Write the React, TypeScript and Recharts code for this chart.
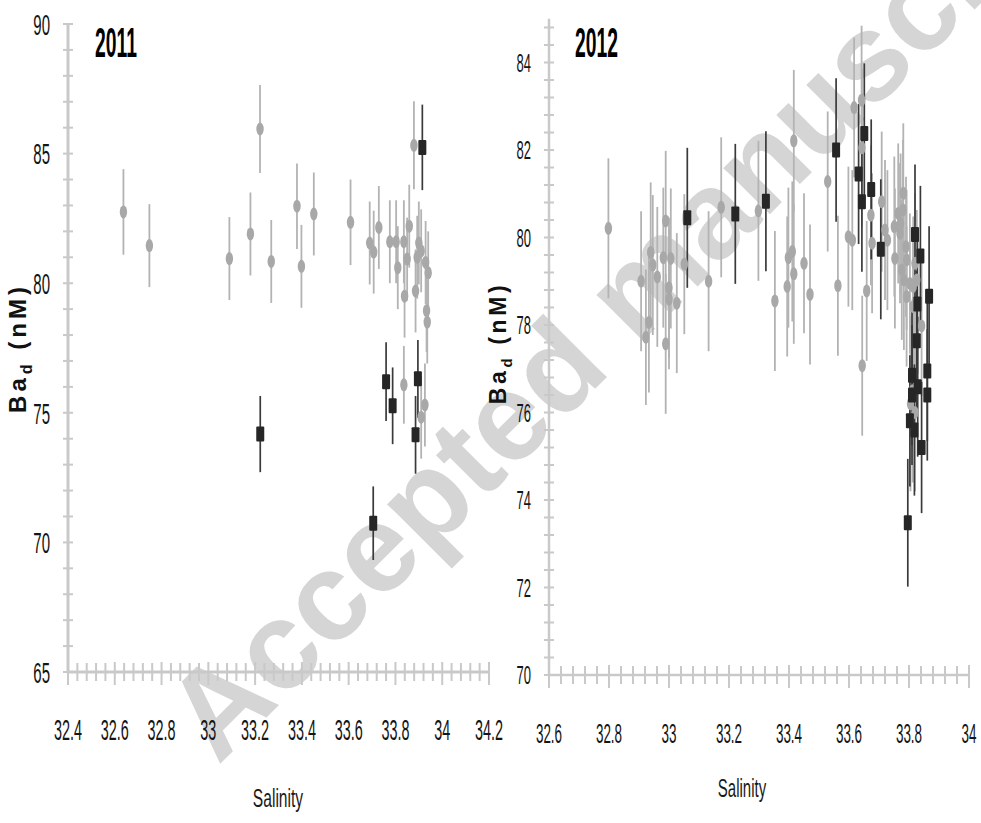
import React from 'react';
import { ScatterChart, Scatter, XAxis, YAxis, ErrorBar } from 'recharts';

// 2011 - gray circles
const sal11Gray = [32.637, 32.748, 33.09, 33.18, 33.221, 33.269, 33.379, 33.398, 33.451, 33.608, 33.69, 33.707, 33.729, 33.776, 33.803, 33.81, 33.836, 33.839, 33.85, 33.859, 33.879, 33.886, 33.893, 33.9, 33.91, 33.929, 33.94, 33.933, 33.936, 33.836, 33.91, 33.926];
const ba11Gray = [82.75, 81.45, 80.95, 81.9, 85.95, 80.84, 82.97, 80.65, 82.67, 82.35, 81.55, 81.2, 82.15, 81.6, 81.6, 80.6, 81.6, 79.5, 80.93, 82.2, 85.32, 79.7, 81.0, 81.55, 81.25, 80.8, 80.4, 78.94, 78.5, 76.08, 74.83, 75.3];
const err11Gray = [1.65, 1.6, 1.6, 1.6, 1.7, 1.6, 1.65, 1.6, 1.6, 1.65, 1.6, 1.6, 1.6, 1.6, 1.6, 1.6, 1.6, 1.6, 1.6, 1.6, 1.7, 1.6, 1.6, 1.6, 1.6, 1.6, 1.6, 1.6, 1.6, 1.5, 1.6, 1.6];

// 2011 - black squares
const sal11Black = [33.222, 33.705, 33.76, 33.788, 33.886, 33.896, 33.915];
const ba11Black = [74.18, 70.74, 76.2, 75.27, 74.15, 76.31, 85.24];
const err11Black = [1.47, 1.42, 1.52, 1.48, 1.5, 1.5, 1.65];

// 2012 - gray circles
const sal12Gray = [32.798, 32.907, 32.923, 32.933, 32.939, 32.946, 32.961, 32.981, 32.989, 32.989, 33.0, 33.0, 33.006, 33.026, 33.051, 33.132, 33.174, 33.298, 33.353, 33.394, 33.398, 33.411, 33.416, 33.416, 33.45, 33.47, 33.529, 33.563, 33.598, 33.611, 33.617, 33.642, 33.643, 33.644, 33.659, 33.673, 33.677, 33.709, 33.72, 33.728, 33.751, 33.753, 33.764, 33.77, 33.776, 33.781, 33.783, 33.792, 33.803, 33.826, 33.842, 33.78, 33.772, 33.79, 33.82, 33.814, 33.814, 33.792, 33.805, 33.812, 33.82];
const ba12Gray = [80.21, 79.0, 77.72, 78.06, 79.66, 79.37, 79.1, 79.54, 80.38, 77.57, 78.85, 78.59, 79.52, 78.5, 79.39, 79.0, 80.69, 80.61, 78.55, 78.88, 79.54, 79.68, 79.17, 82.21, 79.41, 78.7, 81.28, 78.9, 80.02, 79.94, 82.97, 83.14, 82.05, 77.07, 78.78, 80.51, 79.87, 80.82, 80.17, 79.94, 80.25, 79.52, 80.55, 80.1, 79.26, 81.01, 79.03, 79.49, 78.95, 79.03, 77.98, 80.63, 80.32, 79.79, 79.41, 78.88, 78.42, 78.65, 76.2, 76.5, 76.0];
const err12Gray = [1.6, 1.6, 1.55, 1.6, 1.6, 1.6, 1.6, 1.6, 1.6, 1.6, 1.6, 1.6, 1.6, 1.6, 1.6, 1.6, 1.6, 1.6, 1.6, 1.6, 1.6, 1.6, 1.6, 1.62, 1.6, 1.6, 1.6, 1.6, 1.6, 1.6, 1.6, 1.7, 1.8, 1.6, 1.6, 1.6, 1.6, 1.6, 1.6, 1.6, 1.6, 1.6, 1.6, 1.6, 1.6, 1.6, 1.6, 1.6, 1.6, 1.6, 1.6, 1.6, 1.6, 1.6, 1.6, 1.6, 1.6, 1.6, 2.0, 2.1, 1.8];

// 2012 - black squares
const sal12Black = [33.061, 33.221, 33.323, 33.557, 33.632, 33.643, 33.651, 33.674, 33.706, 33.82, 33.838, 33.867, 33.828, 33.826, 33.81, 33.81, 33.829, 33.861, 33.861, 33.803, 33.818, 33.842, 33.796];
const ba12Black = [80.45, 80.54, 80.83, 82.0, 81.45, 80.82, 82.38, 81.1, 79.73, 80.07, 79.58, 78.66, 78.48, 77.64, 76.85, 76.4, 76.59, 76.95, 76.4, 75.81, 75.6, 75.2, 73.48];
const err12Black = [1.6, 1.6, 1.6, 1.64, 1.6, 1.6, 1.6, 1.6, 1.6, 1.6, 1.6, 1.6, 1.6, 1.6, 1.6, 1.6, 1.6, 1.6, 1.5, 1.5, 1.5, 1.5, 1.46];

// axis labels
const xLabels11 = [32.4, 32.6, 32.8, 33, 33.2, 33.4, 33.6, 33.8, 34, 34.2];
const yLabels11 = [65, 70, 75, 80, 85, 90];
const xLabels12 = [32.6, 32.8, 33, 33.2, 33.4, 33.6, 33.8, 34];
const yLabels12 = [70, 72, 74, 76, 78, 80, 82, 84];

const AXIS = '#c9c9c9';
const FONT = '"Liberation Sans", Arial, sans-serif';

const rows = (s: number[], v: number[], e: number[]) => s.map((x, i) => ({ s: x, ba: v[i], err: e[i] }));

const steps = (start: number, end: number, step: number) => {
  const out: number[] = [];
  for (let i = 0; start + i * step <= end + 1e-9; i++) out.push(+(start + i * step).toFixed(3));
  return out;
};

const isMajor = (majors: number[], v: number) => majors.some(m => Math.abs(m - v) < 1e-6);

function XTick({ x, y, payload, majors, size, sx }: any) {
  const major = isMajor(majors, payload.value);
  return (
    <g>
      <line x1={x} x2={x} y1={y - (major ? 10 : 9)} y2={y + (major ? 13 : 9)} stroke={AXIS} strokeWidth={2} />
      {major && (
        <text transform={`translate(${x} ${y + 68}) scale(${sx} 1)`} textAnchor="middle" fontSize={size} fill="#151515" fontFamily={FONT}>
          {String(payload.value)}
        </text>
      )}
    </g>
  );
}

function YTick({ x, y, payload, majors, size, sx, half }: any) {
  const major = isMajor(majors, payload.value);
  return (
    <g>
      <line x1={x - half} x2={x + half} y1={y} y2={y} stroke={AXIS} strokeWidth={2} />
      {major && (
        <text transform={`translate(${x - 18} ${y + size * 0.36}) scale(${sx} 1)`} textAnchor="end" fontSize={size} fill="#151515" fontFamily={FONT}>
          {String(payload.value)}
        </text>
      )}
    </g>
  );
}

const GrayDot = (p: any) => <ellipse cx={p.cx} cy={p.cy} rx={3.7} ry={6.5} fill="#a8a8a8" />;
const BlackBox = (p: any) => <rect x={p.cx - 4} y={p.cy - 7.5} width={8} height={15} rx={1} fill="#262626" />;

function Panel({ gray, black, xDomain, yDomain, xTicks, yTicks, xMajors, yMajors, width, height, margin, yWidth, xHeight, xFont, yFont, axisW }: any) {
  return (
    <ScatterChart width={width} height={height} margin={margin}>
      <XAxis
        type="number" dataKey="s" domain={xDomain} ticks={xTicks} interval={0}
        height={xHeight} tickLine={false} tickSize={0} tickMargin={0}
        axisLine={{ stroke: AXIS, strokeWidth: axisW }}
        tick={<XTick majors={xMajors} size={xFont} sx={0.48} />}
      />
      <YAxis
        type="number" dataKey="ba" domain={yDomain} ticks={yTicks} interval={0}
        width={yWidth} tickLine={false} tickSize={0} tickMargin={0}
        axisLine={{ stroke: AXIS, strokeWidth: axisW }}
        tick={<YTick majors={yMajors} size={yFont} sx={0.5} half={5} />}
      />
      <Scatter data={gray} shape={GrayDot} isAnimationActive={false}>
        <ErrorBar dataKey="err" direction="y" width={0} stroke="#b3b3b3" strokeWidth={1.8} isAnimationActive={false} />
      </Scatter>
      <Scatter data={black} shape={BlackBox} isAnimationActive={false}>
        <ErrorBar dataKey="err" direction="y" width={0} stroke="#3a3a3a" strokeWidth={1.7} isAnimationActive={false} />
      </Scatter>
    </ScatterChart>
  );
}

export default function App() {
  return (
    <div style={{ position: 'absolute', left: 0, top: 0, width: 981, height: 823, background: '#fff', overflow: 'hidden' }}>
      {/* watermark */}
      <svg width={981} height={823} style={{ position: 'absolute', left: 0, top: 0 }}>
        <text transform="translate(218 766) rotate(-45)" fontSize={124} fontWeight="bold" fill="#d5d5d5" fontFamily={FONT}>
          Accepted manuscript
        </text>
      </svg>

      <div style={{ position: 'absolute', left: 0, top: 0 }}>
        <Panel
          gray={rows(sal11Gray, ba11Gray, err11Gray)} black={rows(sal11Black, ba11Black, err11Black)}
          xDomain={[32.4, 34.2]} yDomain={[65, 90]}
          xTicks={steps(32.4, 34.2, 0.04)} yTicks={steps(65, 90, 1)}
          xMajors={xLabels11} yMajors={yLabels11}
          width={512} height={823} margin={{ top: 24, right: 23, bottom: 0, left: 0 }}
          yWidth={68} xHeight={151} xFont={30} yFont={30} axisW={3}
        />
      </div>

      <div style={{ position: 'absolute', left: 490, top: 0 }}>
        <Panel
          gray={rows(sal12Gray, ba12Gray, err12Gray)} black={rows(sal12Black, ba12Black, err12Black)}
          xDomain={[32.6, 34]} yDomain={[70, 85]}
          xTicks={steps(32.6, 34, 0.04)} yTicks={steps(70, 84.8, 0.4)}
          xMajors={xLabels12} yMajors={yLabels12}
          width={491} height={823} margin={{ top: 18.75, right: 12, bottom: 0, left: 0 }}
          yWidth={59} xHeight={148} xFont={28} yFont={26} axisW={2.5}
        />
      </div>

      {/* titles and axis names */}
      <svg width={981} height={823} style={{ position: 'absolute', left: 0, top: 0, pointerEvents: 'none' }} fontFamily={FONT}>
        <text transform="translate(95 57) scale(0.46 1)" fontSize={42} fontWeight="bold" fill="#000">2011</text>
        <text transform="translate(575 57) scale(0.46 1)" fontSize={42} fontWeight="bold" fill="#000">2012</text>

        <text transform="translate(278 807) scale(0.6 1)" textAnchor="middle" fontSize={26} fill="#1a1a1a">Salinity</text>
        <text transform="translate(742 797) scale(0.6 1)" textAnchor="middle" fontSize={25} fill="#1a1a1a">Salinity</text>

        <text transform="translate(26 348) rotate(-90)" textAnchor="middle" fontSize={24} fontWeight="bold" letterSpacing={4} fill="#111">
          Ba<tspan fontSize={16} dy={6}>d</tspan><tspan dy={-6}>{' (nM)'}</tspan>
        </text>
        <text transform="translate(506 343) rotate(-90)" textAnchor="middle" fontSize={23} fontWeight="bold" letterSpacing={3.6} fill="#111">
          Ba<tspan fontSize={15} dy={6}>d</tspan><tspan dy={-6}>{' (nM)'}</tspan>
        </text>
      </svg>
    </div>
  );
}
